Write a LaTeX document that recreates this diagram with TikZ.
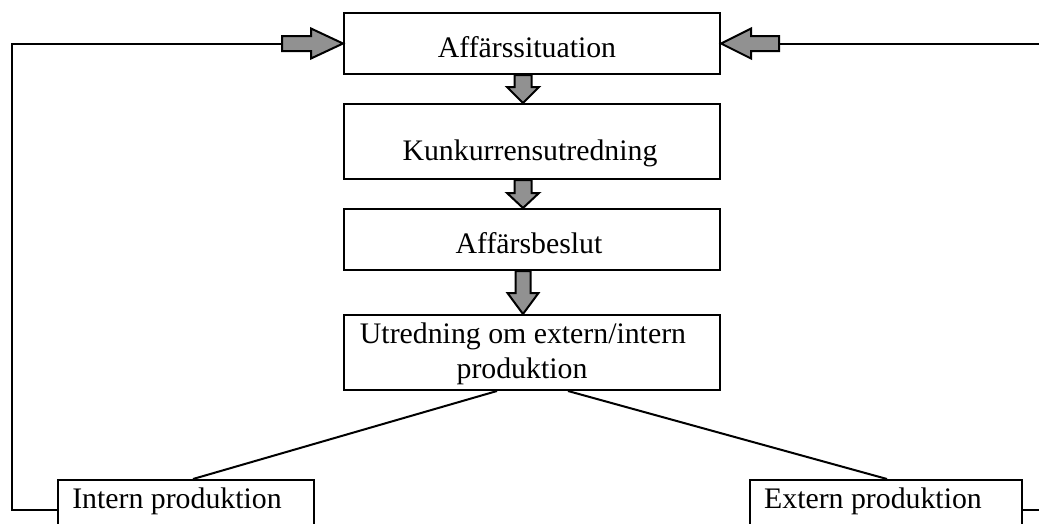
\documentclass[tikz,border=0pt]{standalone}
\usepackage{fontspec}
\setmainfont{Liberation Serif}
\usetikzlibrary{calc}

\definecolor{arrgray}{RGB}{145,145,145}
\tikzset{
  box/.style={draw,line width=2pt,minimum width=376pt,inner sep=0pt},
  lbl/.style={anchor=base,inner sep=0pt,font=\fontsize{29.8}{35}\selectfont},
  blockarr/.style={fill=arrgray,draw,line width=2pt,line join=miter},
  link/.style={line width=2pt}
}
% fat arrow: tail, tip, head length, head half width, shaft half width
\newcommand{\blockarrow}[5]{%
  \coordinate (bh) at ($(#2)!#3!(#1)$);
  \filldraw[blockarr] (#2) -- ($(bh)!#4!90:(#2)$) -- ($(bh)!#5!90:(#2)$)
    -- ($(#1)!#5!90:(#2)$) -- ($(#1)!#5!-90:(#2)$)
    -- ($(bh)!#5!-90:(#2)$) -- ($(bh)!#4!-90:(#2)$) -- cycle;}

\begin{document}
\begin{tikzpicture}[x=1pt,y=-1pt]
      \clip (0,0) rectangle (1039,523);
      \draw
        (532,43.5) node[box,minimum height=61pt] (sit){}
        (532,141.5) node[box,minimum height=75pt] (kunk){}
        (532,239.5) node[box,minimum height=61pt] (beslut){}
        (532,352.5) node[box,minimum height=75pt] (utred){}
        (186,510) node[box,minimum width=256pt,minimum height=60pt] (intern){}
        (886,510) node[box,minimum width=272pt,minimum height=60pt] (extern){};
      \node[lbl] (t-sit) at (527,57) {Affärssituation};
      \node[lbl] (t-kunk) at (530,160) {Kunkurrensutredning};
      \node[lbl] (t-beslut) at (529,253) {Affärsbeslut};
      \node[lbl] (t-utred1) at (523,343) {Utredning om extern/intern};
      \node[lbl] (t-utred2) at (522,378) {produktion};
      \node[lbl] (t-intern) at (177,508) {Intern produktion};
      \node[lbl] (t-extern) at (873,508) {Extern produktion};
      % flow down
      \coordinate (d1a) at ($(sit.south)+(-9,0)$);
      \coordinate (d1b) at ($(kunk.north)+(-9,0)$);
      \coordinate (d2a) at ($(kunk.south)+(-9,0)$);
      \coordinate (d2b) at ($(beslut.north)+(-9,0)$);
      \coordinate (d3a) at ($(beslut.south)+(-9,0)$);
      \coordinate (d3b) at ($(utred.north)+(-9,0)$);
      \blockarrow{d1a}{d1b}{16pt}{16pt}{8.5pt}
      \blockarrow{d2a}{d2b}{15pt}{16pt}{8.5pt}
      \blockarrow{d3a}{d3b}{21pt}{15.5pt}{7.5pt}
      % split
      \begin{scope}[link]
        \draw ($(utred.south)+(-35,0)$) -- ($(intern.north)+(7,0)$);
        \draw ($(utred.south)+(36,0)$) -- ($(extern.north)+(1,0)$);
      \end{scope}
      % feedback
      \coordinate (fbl) at (282,43.5);
      \coordinate (fbr) at (779,43.5);
      \draw[link] (intern.west) -- (12,510) -- (12,43.5) -- (fbl);
      \draw[link] (extern.east) -- (1045,510) -- (1045,43.5) -- (fbr);
      \blockarrow{fbl}{sit.west}{32pt}{15pt}{7.5pt}
      \blockarrow{fbr}{sit.east}{30pt}{15pt}{7.5pt}
    \end{tikzpicture}
\end{document}
